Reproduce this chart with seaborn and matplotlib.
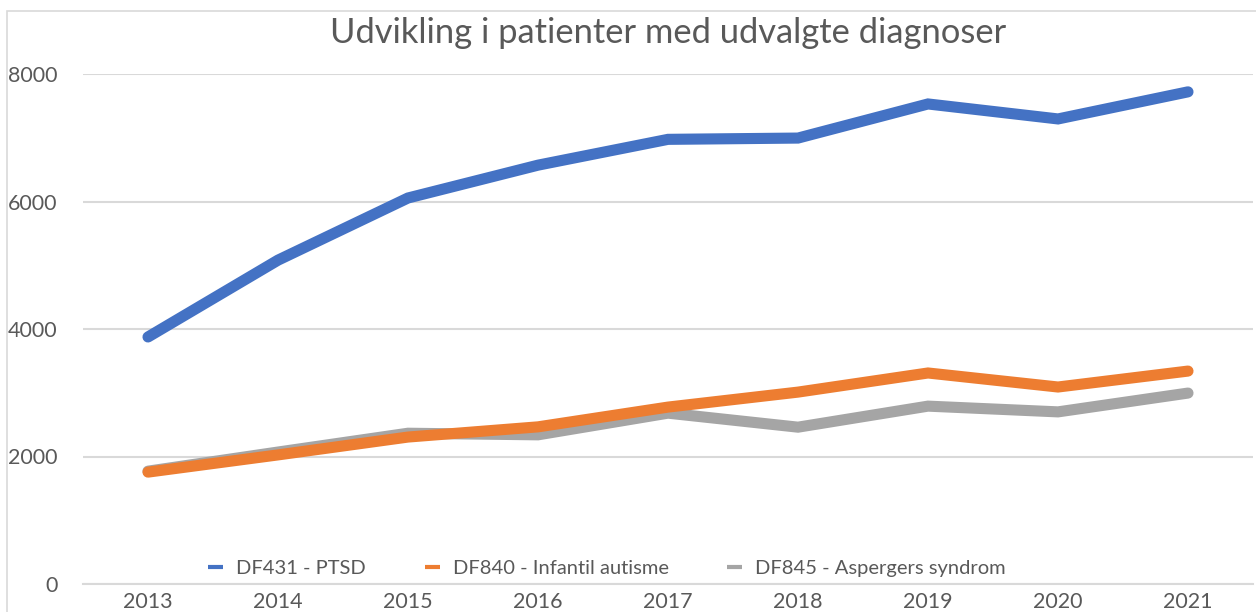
import pandas as pd
import seaborn as sns
import matplotlib.pyplot as plt
from matplotlib.patches import Rectangle

# data
years = [2013, 2014, 2015, 2016, 2017, 2018, 2019, 2020, 2021]
ptsd = [3875, 5080, 6055, 6570, 6975, 6995, 7530, 7295, 7720]
autisme = [1755, 2025, 2305, 2465, 2775, 3010, 3310, 3090, 3340]
asperger = [1770, 2070, 2365, 2340, 2680, 2460, 2790, 2700, 2995]
series_names = ["DF431 - PTSD", "DF840 - Infantil autisme", "DF845 - Aspergers syndrom"]
colors = ["#4472C4", "#ED7D31", "#A5A5A5"]

df = pd.DataFrame({"År": years * 3,
                   "Patienter": ptsd + autisme + asperger,
                   "Diagnose": [n for n in series_names for _ in years]})

sns.set_theme(style="white")
plt.rcParams['font.family'] = ['Lato', 'DejaVu Sans']
text_col = "#595959"

fig = plt.figure(figsize=(12.56, 6.12), dpi=100)
ax = fig.add_axes([83 / 1256, 28 / 612, 1170 / 1256, 510 / 612])

sns.lineplot(data=df, x="År", y="Patienter", hue="Diagnose", hue_order=series_names,
             palette=colors, linewidth=8, ax=ax)
for line in ax.get_lines():
    line.set_solid_capstyle("round")
    line.set_solid_joinstyle("miter")
# orange on top of grey, like the original
ax.get_lines()[1].set_zorder(4)
ax.get_lines()[2].set_zorder(3)

ax.set_xlim(2012.5, 2021.5)
ax.set_ylim(0, 8000)
ax.set_xticks(years)
ax.set_yticks([0, 2000, 4000, 6000, 8000])
ax.set_xlabel("")
ax.set_ylabel("")
ax.tick_params(axis="both", length=0, labelsize=15.5, colors=text_col)
ax.tick_params(axis="y", pad=18.5)
ax.tick_params(axis="x", pad=6)
ax.yaxis.grid(True, color="#D9D9D9", linewidth=1.5)
ax.set_axisbelow(True)
for side in ["top", "right", "left"]:
    ax.spines[side].set_visible(False)
ax.spines["bottom"].set_color("#D9D9D9")
ax.spines["bottom"].set_linewidth(1.5)

old = ax.get_legend()
handles = old.legend_handles
labels = [t.get_text() for t in old.get_texts()]
leg = ax.legend(handles, labels, loc="center", bbox_to_anchor=(0.448, 0.03), ncol=3,
                frameon=False, fontsize=14.5, handlelength=0.75, handletextpad=0.65,
                columnspacing=2.9, labelcolor=text_col)
for l in leg.get_lines():
    l.set_linewidth(3)
    l.set_solid_capstyle("butt")

fig.text(0.532, 1 - 33 / 612, "Udvikling i patienter med udvalgte diagnoser",
         ha="center", va="center", fontsize=24.8, color=text_col)

# chart area border
fig.patches.append(Rectangle((7 / 1256, -0.1), 1.2, 1 - 11 / 612 + 0.1, transform=fig.transFigure,
                             fill=False, edgecolor="#D9D9D9", linewidth=1.2, zorder=0))

fig.savefig("out.png", dpi=100)
